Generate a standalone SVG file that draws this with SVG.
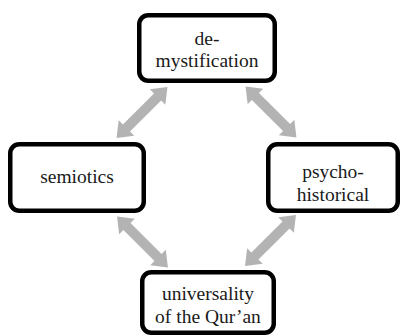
<svg xmlns="http://www.w3.org/2000/svg" width="401" height="336" viewBox="0 0 401 336">
<style>
.box{fill:#fff;stroke:#000;stroke-width:4.5}
.lbl{font-family:'Liberation Serif', 'Times New Roman', serif;font-size:19.5px;fill:#1a1a1a;text-anchor:middle}
.arr{fill:#b3b3b3}
</style>
<defs>
<path id="dbl" d="M-36,0 L-22,-11 L-22,-5 L22,-5 L22,-11 L36,0 L22,11 L22,5 L-22,5 L-22,11 Z"/>
</defs>
<rect width="401" height="336" fill="#fff"/>
<g id="connectors" class="arr">
<use href="#dbl" transform="translate(142,112.5) rotate(-45)"/>
<use href="#dbl" transform="translate(271,112) rotate(45)"/>
<use href="#dbl" transform="translate(142.5,242) rotate(45)"/>
<use href="#dbl" transform="translate(270.5,240.5) rotate(-45)"/>
</g>
<g id="demystification">
<rect class="box" x="139.25" y="15.25" width="135.5" height="65.5" rx="9"/>
<text class="lbl" x="207" y="45">de-</text>
<text class="lbl" x="207" y="67">mystification</text>
</g>
<g id="semiotics">
<rect class="box" x="10.25" y="144.25" width="133.5" height="66.5" rx="9"/>
<text class="lbl" x="77" y="183">semiotics</text>
</g>
<g id="psychohistorical">
<rect class="box" x="268.25" y="144.25" width="129.5" height="66.5" rx="9"/>
<text class="lbl" x="333" y="178">psycho-</text>
<text class="lbl" x="333" y="201">historical</text>
</g>
<g id="universality">
<rect class="box" x="142.25" y="272.25" width="131.5" height="60.5" rx="9"/>
<text class="lbl" x="208" y="300">universality</text>
<text class="lbl" x="208" y="323">of the Qur’an</text>
</g>
</svg>
